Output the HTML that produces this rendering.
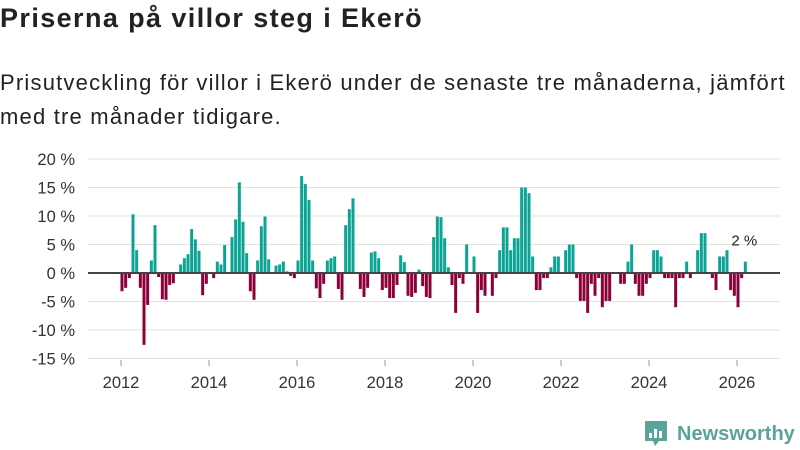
<!DOCTYPE html>
<html><head><meta charset="utf-8">
<style>
body{margin:0;width:800px;height:450px;background:#fff;font-family:"Liberation Sans","DejaVu Sans",sans-serif;color:#222;overflow:hidden;position:relative}
#title{position:absolute;left:0;top:3px;font-size:27px;letter-spacing:1.4px;font-weight:bold;margin:0}
#sub{position:absolute;left:0;top:66px;font-size:22px;letter-spacing:1.2px;line-height:34px;width:790px}
svg{position:absolute;left:0;top:0}
</style></head><body>
<h1 id="title">Priserna på villor steg i Ekerö</h1>
<div id="sub">Prisutveckling för villor i Ekerö under de senaste tre månaderna, jämfört<br>med tre månader tidigare.</div>
<svg id="chart" width="800" height="450"></svg>
<script>
const startYear = 2012;
const values = [-3.2,-2.6,-0.9,10.3,4.0,-2.6,-12.6,-5.6,2.2,8.4,-0.7,-4.6,
-4.7,-2.1,-1.8,0,1.5,2.6,3.3,7.7,5.9,3.9,-3.9,-1.9,
0,-0.9,2.0,1.5,4.9,0,6.3,9.4,15.9,9.0,3.5,-3.2,
-4.7,2.2,8.2,9.9,2.4,0,1.3,1.5,2.0,0.3,-0.5,-0.9,
2.2,17.0,15.6,12.8,2.2,-2.7,-4.4,-1.9,2.2,2.6,2.9,-2.8,
-4.7,8.4,11.2,13.1,0,-2.8,-4.2,-2.6,3.6,3.8,2.6,-3.0,
-2.6,-4.4,-4.4,-2.1,3.1,1.9,-4.0,-4.2,-3.5,0.6,-2.3,-4.2,
-4.4,6.3,9.9,9.8,6.1,1.0,-2.1,-7.0,-0.9,-1.9,5.0,0,
2.9,-7.0,-3.0,-4.0,0,-4.0,-0.9,4.0,8.0,8.0,4.0,6.1,
6.1,15.0,15.0,14.0,2.9,-3.0,-3.0,-0.9,-0.9,1.0,2.9,2.9,
0,4.0,5.0,5.0,-0.9,-4.9,-4.9,-7.0,-1.9,-4.0,-0.9,-6.0,
-4.9,-4.9,0,0,-1.9,-1.9,2.0,5.0,-1.9,-4.0,-4.0,-1.9,
-0.9,4.0,4.0,2.9,-0.9,-0.9,-0.9,-6.0,-0.9,-0.9,2.0,-0.9,
0,4.0,7.0,7.0,0,-0.9,-3.0,2.9,2.9,4.0,-3.0,-4.0,
-6.0,-0.9,2.0];
const yTicks = [20,15,10,5,0,-5,-10,-15];
const xTicks = [2012,2014,2016,2018,2020,2022,2024,2026];
const lastLabel = "2 %";

const NS="http://www.w3.org/2000/svg";
const svg=document.getElementById('chart');
const y=v=>273-v*5.7;
const x=t=>121+(t-2012)*44;
function mk(tag,attrs){const e=document.createElementNS(NS,tag);for(const k in attrs)e.setAttribute(k,attrs[k]);svg.appendChild(e);return e;}
yTicks.forEach(v=>{
  const g=mk('line',{x1:88,x2:780,y1:y(v),y2:y(v),stroke:'#e2e2e2','stroke-width':1});
  
  
  const t=mk('text',{x:75,y:y(v)+6,'text-anchor':'end','font-size':16.5,fill:'#333'});
  t.textContent=v+' %';
  
  
});
xTicks.forEach(yr=>{
  const l=mk('line',{x1:x(yr),x2:x(yr),y1:360,y2:366,stroke:'#999'});
  
  
  const t=mk('text',{x:x(yr),y:388,'text-anchor':'middle','font-size':16.5,fill:'#333'});
  t.textContent=yr;
  
  
});
values.forEach((v,i)=>{
  const cx=x(startYear+i/12)+1;
  const top=Math.min(y(v),y(0)), h=Math.abs(y(v)-y(0));
  const r=mk('rect',{x:cx-1.5,y:top,width:3,height:h,fill:v>=0?'#0ba394':'#8c0039'});
  
  
});
const z=mk('line',{x1:88,x2:780,y1:y(0),y2:y(0),stroke:'#444','stroke-width':2});


const li=values.length-1;
const lab=mk('text',{x:x(startYear+li/12),y:y(values[li])-16,'text-anchor':'middle','font-size':15,fill:'#222'});
lab.textContent=lastLabel;


const lg=mk('g',{});


const b=document.createElementNS(NS,'path');
b.setAttribute('d','M645 421 h22 v20 h-8 l-4 5 l-2 -5 h-8 z');
b.setAttribute('fill','#5aa39a');
lg.appendChild(b);
[[649,433,3,5],[654,429,3,9],[659,431,3,7]].forEach(a=>{const r=document.createElementNS(NS,'rect');r.setAttribute('x',a[0]);r.setAttribute('y',a[1]);r.setAttribute('width',a[2]);r.setAttribute('height',a[3]);r.setAttribute('fill','#fff');lg.appendChild(r);});
const lt=document.createElementNS(NS,'text');
lt.setAttribute('x',677);lt.setAttribute('y',440);lt.setAttribute('font-size',20);lt.setAttribute('font-weight','bold');lt.setAttribute('fill','#5aa39a');
lt.textContent='Newsworthy';
lg.appendChild(lt);
</script>
</body></html>
